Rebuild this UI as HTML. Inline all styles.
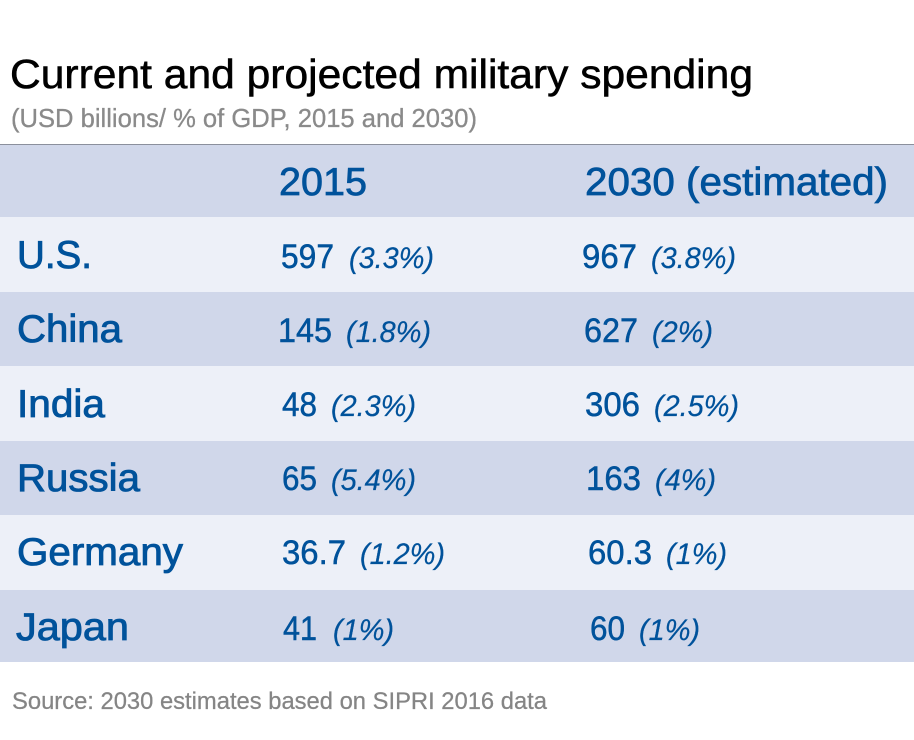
<!DOCTYPE html>
<html lang="en"><head><meta charset="utf-8"><title>Current and projected military spending</title>
<style>
html,body{margin:0;padding:0;background:#fff}
svg{display:block}
text{font-family:"Liberation Sans",Arial,sans-serif;white-space:pre}
.h{font-size:39px;fill:#00529b;stroke:#00529b;stroke-width:.75px}
.l{font-size:39px;fill:#00529b;stroke:#00529b;stroke-width:.85px}
.v{font-size:34px;fill:#00529b;stroke:#00529b;stroke-width:.5px}
.p{font-size:30px;font-style:italic;fill:#00529b;stroke:#00529b;stroke-width:.25px}
</style></head><body>
<svg width="914" height="740" viewBox="0 0 914 740">
<rect width="914" height="740" fill="#fff"/>
<text x="10" y="88" font-size="41" fill="#000" stroke="#000" stroke-width=".55" textLength="743" lengthAdjust="spacingAndGlyphs">Current and projected military spending</text>
<text x="11" y="127" font-size="26" fill="#8a8a8a" stroke="#8a8a8a" stroke-width=".3" textLength="466" lengthAdjust="spacingAndGlyphs">(USD billions/ % of GDP, 2015 and 2030)</text>
<rect x="0" y="145" width="914" height="72" fill="#d0d7ea"/>
<rect x="0" y="144" width="914" height="1" fill="#8b909c"/>
<rect x="0" y="217" width="914" height="75" fill="#edf0f8"/>
<rect x="0" y="292" width="914" height="74" fill="#d0d7ea"/>
<rect x="0" y="366" width="914" height="75" fill="#edf0f8"/>
<rect x="0" y="441" width="914" height="74" fill="#d0d7ea"/>
<rect x="0" y="515" width="914" height="75" fill="#edf0f8"/>
<rect x="0" y="590" width="914" height="72" fill="#d0d7ea"/>

<text class="h" x="279" y="195" textLength="88" lengthAdjust="spacingAndGlyphs">2015</text>
<text class="h" x="585" y="195" textLength="303" lengthAdjust="spacingAndGlyphs">2030 (estimated)</text>

<text class="l" x="17" y="268" textLength="75" lengthAdjust="spacingAndGlyphs">U.S.</text>
<text class="l" x="17" y="342" textLength="105" lengthAdjust="spacingAndGlyphs">China</text>
<text class="l" x="17" y="417" textLength="88" lengthAdjust="spacingAndGlyphs">India</text>
<text class="l" x="17" y="491" textLength="123" lengthAdjust="spacingAndGlyphs">Russia</text>
<text class="l" x="17" y="565" textLength="166" lengthAdjust="spacingAndGlyphs">Germany</text>
<text class="l" x="16" y="640" textLength="113" lengthAdjust="spacingAndGlyphs">Japan</text>

<text class="v" x="281" y="268" textLength="53" lengthAdjust="spacingAndGlyphs">597</text>
<text class="p" x="349" y="268" textLength="85" lengthAdjust="spacingAndGlyphs">(3.3%)</text>
<text class="v" x="582" y="268" textLength="55" lengthAdjust="spacingAndGlyphs">967</text>
<text class="p" x="651" y="268" textLength="85" lengthAdjust="spacingAndGlyphs">(3.8%)</text>

<text class="v" x="278" y="342" textLength="54" lengthAdjust="spacingAndGlyphs">145</text>
<text class="p" x="346" y="342" textLength="85" lengthAdjust="spacingAndGlyphs">(1.8%)</text>
<text class="v" x="584" y="342" textLength="54" lengthAdjust="spacingAndGlyphs">627</text>
<text class="p" x="652" y="342" textLength="61" lengthAdjust="spacingAndGlyphs">(2%)</text>

<text class="v" x="282" y="416" textLength="35" lengthAdjust="spacingAndGlyphs">48</text>
<text class="p" x="331" y="416" textLength="85" lengthAdjust="spacingAndGlyphs">(2.3%)</text>
<text class="v" x="585" y="416" textLength="55" lengthAdjust="spacingAndGlyphs">306</text>
<text class="p" x="654" y="416" textLength="85" lengthAdjust="spacingAndGlyphs">(2.5%)</text>

<text class="v" x="282" y="490" textLength="35" lengthAdjust="spacingAndGlyphs">65</text>
<text class="p" x="331" y="490" textLength="85" lengthAdjust="spacingAndGlyphs">(5.4%)</text>
<text class="v" x="586" y="490" textLength="55" lengthAdjust="spacingAndGlyphs">163</text>
<text class="p" x="655" y="490" textLength="61" lengthAdjust="spacingAndGlyphs">(4%)</text>

<text class="v" x="282" y="564" textLength="64" lengthAdjust="spacingAndGlyphs">36.7</text>
<text class="p" x="360" y="564" textLength="85" lengthAdjust="spacingAndGlyphs">(1.2%)</text>
<text class="v" x="588" y="564" textLength="64" lengthAdjust="spacingAndGlyphs">60.3</text>
<text class="p" x="666" y="564" textLength="61" lengthAdjust="spacingAndGlyphs">(1%)</text>

<text class="v" x="283" y="640" textLength="34" lengthAdjust="spacingAndGlyphs">41</text>
<text class="p" x="333" y="640" textLength="61" lengthAdjust="spacingAndGlyphs">(1%)</text>
<text class="v" x="590" y="640" textLength="35" lengthAdjust="spacingAndGlyphs">60</text>
<text class="p" x="639" y="640" textLength="61" lengthAdjust="spacingAndGlyphs">(1%)</text>

<text x="12" y="709" font-size="24" fill="#858585" stroke="#858585" stroke-width=".25" textLength="535" lengthAdjust="spacingAndGlyphs">Source: 2030 estimates based on SIPRI 2016 data</text>
</svg>
</body></html>
